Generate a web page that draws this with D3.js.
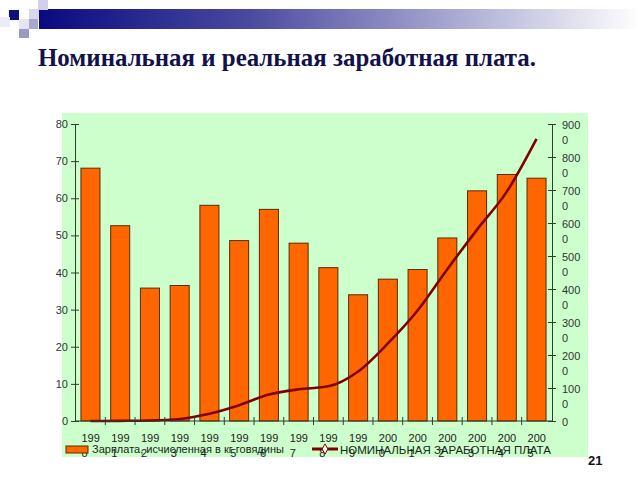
<!DOCTYPE html>
<html><head><meta charset="utf-8">
<script src="https://cdn.jsdelivr.net/npm/d3@7"></script>
<style>body{margin:0;background:#fff}svg{display:block}</style>
</head><body>
<svg id="c" width="640" height="480"></svg>
<script>
const years = ["1990","1991","1992","1993","1994","1995","1996","1997","1998","1999","2000","2001","2002","2003","2004","2005"];
const realWage = [68.1, 52.6, 35.8, 36.5, 58.1, 48.6, 57.0, 47.9, 41.3, 34.0, 38.2, 40.8, 49.3, 62.0, 66.4, 65.4];
const nominalWage = [0, 5, 15, 60, 220, 480, 800, 960, 1050, 1500, 2350, 3350, 4600, 5800, 6950, 8550];
const leftTicks = [0,10,20,30,40,50,60,70,80];
const rightTicks = [0,1000,2000,3000,4000,5000,6000,7000,8000,9000];
const seriesNames = ["Зарплата, исчисленная в кг говядины", "НОМИНАЛЬНАЯ ЗАРАБОТНАЯ ПЛАТА"];
const title = "Номинальная и реальная заработная плата.";

const svg = d3.select("#c");
const font = "Arial, 'Liberation Sans', sans-serif";

// header decoration
const defs = svg.append("defs");
const g1 = defs.append("linearGradient").attr("id","hg").attr("x1","0").attr("x2","1");
g1.append("stop").attr("offset","0").attr("stop-color","#0a0a80");
g1.append("stop").attr("offset","0.35").attr("stop-color","#4a4aa0");
g1.append("stop").attr("offset","1").attr("stop-color","#ffffff");
svg.append("rect").attr("x",39).attr("y",9).attr("width",601).attr("height",20).attr("fill","url(#hg)");
const squares = [
  {x:9,y:10,c:"#10107a"},{x:29,y:9,c:"#d8d8ec"},{x:38,y:0,c:"#d0d0e8"},
  {x:28,y:19,c:"#a8a8cc"},{x:19,y:28,c:"#9a9ac4"},{x:0,y:17,c:"#ececf6"},{x:19,y:19,c:"#e4e4f2"}
];
svg.selectAll("rect.sq").data(squares).join("rect").attr("class","sq")
  .attr("x",d=>d.x).attr("y",d=>d.y).attr("width",10).attr("height",10).attr("fill",d=>d.c);

svg.append("text").attr("x",38).attr("y",66).text(title)
  .attr("font-family","'Liberation Serif','Times New Roman',serif").attr("font-weight","bold")
  .attr("font-size",24.9).attr("fill","#12124a");

// plot area
svg.append("rect").attr("x",62).attr("y",113).attr("width",526).attr("height",344).attr("fill","#ccffcc");

const x = d3.scaleBand().domain(years).range([75,552]).paddingInner(0.36).paddingOuter(0.2);
const yL = d3.scaleLinear().domain([0,80]).range([421,124]);
const yR = d3.scaleLinear().domain([0,9000]).range([421,124]);

// bars
svg.selectAll("rect.bar").data(years).join("rect").attr("class","bar")
  .attr("x",d=>x(d)).attr("width",x.bandwidth())
  .attr("y",(d,i)=>yL(realWage[i])).attr("height",(d,i)=>yL(0)-yL(realWage[i]))
  .attr("fill","#ff6600").attr("stroke","#5a2a00").attr("stroke-width",1);

// line
const line = d3.line().x((d,i)=>x(years[i])+x.bandwidth()/2).y(d=>yR(d)).curve(d3.curveMonotoneX);
svg.append("path").attr("d",line(nominalWage)).attr("fill","none").attr("stroke","#800000").attr("stroke-width",2.6);

const axisColor = "#2f3f2f";
// left axis
const la = svg.append("g").attr("transform","translate(75,0)")
  .call(d3.axisLeft(yL).tickValues(leftTicks).tickSize(0).tickPadding(7));
la.select(".domain").attr("stroke",axisColor);
la.selectAll("text").attr("font-family",font).attr("font-size",11).attr("fill","#333");
la.selectAll(".tick").append("line").attr("x1",-4).attr("x2",4).attr("stroke",axisColor);

// right axis
const ra = svg.append("g").attr("transform","translate(552,0)")
  .call(d3.axisRight(yR).tickValues(rightTicks).tickSize(0).tickPadding(10).tickFormat(()=>""));
ra.select(".domain").attr("stroke",axisColor);
ra.selectAll(".tick").append("line").attr("x1",-4).attr("x2",4).attr("stroke",axisColor);
ra.selectAll(".tick text").each(function(d){
  const s = String(d); const t = d3.select(this).attr("x",10).attr("dy",null).attr("y",4)
    .attr("font-family",font).attr("font-size",11).attr("fill","#333");
  if (s.length > 3) {
    t.append("tspan").attr("x",10).attr("y",4).text(s.slice(0,3));
    t.append("tspan").attr("x",10).attr("y",19).text(s.slice(3));
  } else t.text(s);
});

// bottom axis
const ba = svg.append("g").attr("transform","translate(0,421)")
  .call(d3.axisBottom(x).tickSize(0).tickFormat(()=>""));
ba.select(".domain").attr("stroke",axisColor).attr("d","M75,0H552");
svg.append("g").selectAll("line").data(years.slice(1)).join("line")
  .attr("x1",d=>x(d)-(x.step()-x.bandwidth())/2).attr("x2",d=>x(d)-(x.step()-x.bandwidth())/2)
  .attr("y1",417).attr("y2",425).attr("stroke",axisColor);
ba.selectAll(".tick text").each(function(d){
  const t = d3.select(this).attr("y",null).attr("dy",null).attr("text-anchor","start")
    .attr("font-family",font).attr("font-size",11).attr("fill","#222");
  t.append("tspan").attr("x",-9).attr("y",21).text(d.slice(0,3));
  t.append("tspan").attr("x",-9).attr("y",36).text(d.slice(3));
});

// legend
svg.append("rect").attr("x",66).attr("y",446).attr("width",22).attr("height",7)
  .attr("fill","#ff6600").attr("stroke","#5a2a00");
svg.append("text").attr("x",92).attr("y",453).text(seriesNames[0])
  .attr("font-family",font).attr("font-size",11).attr("fill","#222");
svg.append("line").attr("x1",312).attr("x2",338).attr("y1",449).attr("y2",449).attr("stroke","#800000").attr("stroke-width",3);
svg.append("path").attr("d",d3.symbol(d3.symbolDiamond,30)()).attr("transform","translate(325,449)")
  .attr("fill","#fff").attr("stroke","#800000");
svg.append("text").attr("x",340).attr("y",454).text(seriesNames[1])
  .attr("font-family",font).attr("font-size",11.5).attr("fill","#222");

svg.append("text").attr("x",588).attr("y",465).text("21")
  .attr("font-family",font).attr("font-weight","bold").attr("font-size",13).attr("fill","#111");
</script>
</body></html>
